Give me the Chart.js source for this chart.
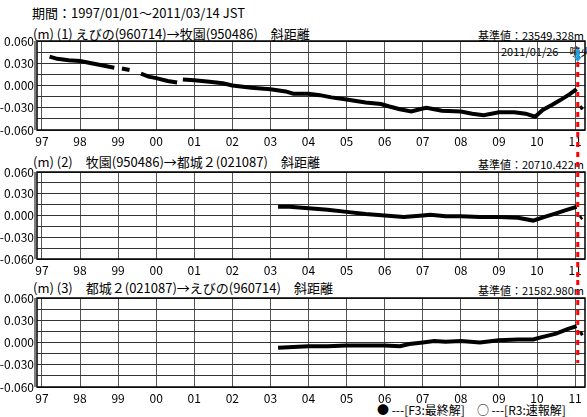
<!DOCTYPE html>
<html>
<head>
<meta charset="utf-8">
<script src="https://cdn.jsdelivr.net/npm/chart.js@4"></script>
<style>
  body { margin: 0; background: #fff; width: 587px; height: 417px; position: relative; overflow: hidden;
         font-family: "Noto Sans CJK JP", sans-serif; color: #000; }
  .t { position: absolute; white-space: nowrap; line-height: 1; }
  canvas { position: absolute; left: 0; }
</style>
</head>
<body>
<div class="t" style="left:32px;top:6px;font-size:13px">期間：1997/01/01～2011/03/14 JST</div>

<div class="t" style="left:33px;top:27px;font-size:13px">(m) (1) えびの(960714)→牧園(950486)　斜距離</div>
<div class="t" style="right:3px;top:30px;font-size:11px">基準値：23549.328m</div>
<div class="t" style="left:501px;top:46px;font-size:11px">2011/01/26　噴火</div>

<div class="t" style="left:33px;top:155px;font-size:13px">(m) (2)　牧園(950486)→都城２(021087)　斜距離</div>
<div class="t" style="right:3px;top:159px;font-size:11px">基準値：20710.422m</div>

<div class="t" style="left:33px;top:281px;font-size:13px">(m) (3)　都城２(021087)→えびの(960714)　斜距離</div>
<div class="t" style="right:3px;top:285px;font-size:11px">基準値：21582.980m</div>

<div class="t" style="left:377px;top:404px;font-size:12px">● ---[F3:最終解]　○ ---[R3:速報解]</div>

<canvas id="c1" width="587" height="132" style="top:20px"></canvas>
<canvas id="c2" width="587" height="128" style="top:152px"></canvas>
<canvas id="c3" width="587" height="137" style="top:280px"></canvas>

<script>
// x axis: decimal years, one tick per year
const years = [1997, 1998, 1999, 2000, 2001, 2002, 2003, 2004, 2005, 2006, 2007, 2008, 2009, 2010, 2011];
const yGrid = [0.06, 0.045, 0.03, 0.015, 0, -0.015, -0.03, -0.045, -0.06];
const yLabelValues = [0.06, 0.03, 0, -0.03, -0.06];
const yLabelTexts = ["0.060", "0.030", "0.000", "-0.030", "-0.060"];
const eruption = 2011.07; // 2011/01/26

// (1) えびの→牧園  (null = gap in the record)
const t1 = [1997.2, 1997.4, 1997.7, 1998.0, 1998.3, 1998.6, 1998.9, 1999.0, 1999.1, 1999.3, 1999.45,
  1999.6, 1999.8, 2000.0, 2000.3, 2000.55, 2000.62, 2000.7, 2001.0, 2001.4, 2001.75, 2002.0, 2002.5,
  2003.0, 2003.4, 2003.6, 2004.0, 2004.3, 2004.6, 2005.0, 2005.5, 2005.9, 2006.1, 2006.4, 2006.7,
  2007.0, 2007.1, 2007.5, 2008.0, 2008.3, 2008.6, 2009.0, 2009.4, 2009.7, 2009.95, 2010.15, 2010.4,
  2010.6, 2010.85, 2011.04, 2011.09, 2011.13, 2011.2];
const v1 = [0.039, 0.036, 0.034, 0.033, 0.030, 0.027, 0.024, null, 0.023, 0.021, null,
  0.016, 0.012, 0.010, 0.006, 0.004, null, 0.008, 0.007, 0.005, 0.003, 0.000, -0.003,
  -0.005, -0.008, -0.011, -0.011, -0.013, -0.016, -0.019, -0.023, -0.025, -0.028, -0.032, -0.035,
  -0.031, -0.030, -0.034, -0.035, -0.038, -0.040, -0.036, -0.036, -0.038, -0.042, -0.033, -0.026,
  -0.020, -0.012, -0.005, null, -0.031, -0.029];

// (2) 牧園→都城２
const t2 = [2003.2, 2003.5, 2004.0, 2004.5, 2005.0, 2005.5, 2006.0, 2006.5, 2007.0, 2007.2, 2007.6,
  2008.0, 2008.5, 2009.0, 2009.5, 2009.9, 2010.2, 2010.5, 2010.8, 2011.04, 2011.09, 2011.13, 2011.18];
const v2 = [0.012, 0.012, 0.010, 0.008, 0.005, 0.002, 0.000, -0.002, 0.000, 0.001, -0.001,
  -0.001, -0.002, -0.002, -0.003, -0.007, -0.002, 0.003, 0.008, 0.012, null, -0.004, -0.002];

// (3) 都城２→えびの
const t3 = [2003.2, 2003.6, 2004.0, 2004.5, 2005.0, 2005.5, 2006.0, 2006.4, 2006.65, 2007.0, 2007.3,
  2007.6, 2008.0, 2008.5, 2009.0, 2009.5, 2009.9, 2010.1, 2010.5, 2010.8, 2011.04, 2011.09, 2011.13, 2011.2];
const v3 = [-0.007, -0.006, -0.005, -0.005, -0.004, -0.004, -0.004, -0.005, -0.002, 0.000, 0.002,
  0.001, 0.002, 0.000, 0.003, 0.004, 0.004, 0.007, 0.012, 0.018, 0.022, null, 0.011, 0.013];

Chart.defaults.font.family = '"Noto Sans CJK JP", sans-serif';
Chart.defaults.font.size = 12;
Chart.defaults.color = "#000";

function makeChart(id, times, values, opt) {
  const framePlugin = {
    id: "frame",
    afterDraw(chart) {
      const ctx = chart.ctx;
      const a = chart.chartArea;
      ctx.save();
      ctx.strokeStyle = "#000";
      ctx.lineWidth = 1.5;
      ctx.strokeRect(a.left, a.top, a.right - a.left, a.bottom - a.top);
      ctx.beginPath();
      ctx.moveTo(a.left - 2, a.top);
      ctx.lineTo(a.left - 2, a.bottom);
      ctx.lineWidth = 1;
      ctx.stroke();

      const x = chart.scales.x.getPixelForValue(eruption);
      ctx.strokeStyle = "#ff0000";
      ctx.lineWidth = 3;
      ctx.setLineDash([5, 5]);
      ctx.beginPath();
      ctx.moveTo(x, opt.redFrom);
      ctx.lineTo(x, opt.redTo);
      ctx.stroke();
      ctx.setLineDash([]);

      if (opt.arrow) {
        ctx.strokeStyle = "#1ea0e6";
        ctx.fillStyle = "#1ea0e6";
        ctx.lineWidth = 3;
        ctx.beginPath();
        ctx.moveTo(x, opt.arrow[0]);
        ctx.lineTo(x, opt.arrow[1] - 4);
        ctx.stroke();
        ctx.beginPath();
        ctx.moveTo(x - 4, opt.arrow[1] - 5);
        ctx.lineTo(x + 4, opt.arrow[1] - 5);
        ctx.lineTo(x, opt.arrow[1]);
        ctx.closePath();
        ctx.fill();
      }
      ctx.restore();
    }
  };

  return new Chart(document.getElementById(id), {
    type: "scatter",
    data: {
      datasets: [{
        data: times.map((t, i) => ({ x: t, y: values[i] })),
        showLine: true,
        spanGaps: false,
        borderColor: "#000",
        backgroundColor: "#000",
        borderWidth: 4,
        pointRadius: 0,
      }],
    },
    options: {
      responsive: false,
      animation: false,
      layout: { padding: { top: opt.padTop, right: 2, left: 0, bottom: opt.padBottom } },
      plugins: { legend: { display: false }, tooltip: { enabled: false } },
      scales: {
        x: {
          type: "linear",
          min: 1996.87,
          max: 2011.26,
          afterBuildTicks: (s) => { s.ticks = years.map((v) => ({ value: v })); },
          afterFit: (s) => { s.height = opt.axisH; },
          ticks: {
            autoSkip: false,
            maxRotation: 0,
            padding: 4,
            callback: (v) => String(v % 100).padStart(2, "0"),
          },
          grid: { color: "#555", drawTicks: false },
          border: { display: false },
        },
        y: {
          min: -0.06,
          max: 0.06,
          afterBuildTicks: (s) => { s.ticks = yGrid.map((v) => ({ value: v })); },
          afterFit: (s) => { s.width = 37; },
          ticks: {
            autoSkip: false,
            padding: 3,
            callback: (v) => {
              const i = yLabelValues.findIndex((a) => Math.abs(a - v) < 1e-9);
              return i < 0 ? "" : yLabelTexts[i];
            },
          },
          grid: { color: "#333", drawTicks: false },
          border: { display: false },
        },
      },
    },
    plugins: [framePlugin],
  });
}

makeChart("c1", t1, v1, { padTop: 21, padBottom: 0, axisH: 22, redFrom: 42, redTo: 132, arrow: [29, 42] });
makeChart("c2", t2, v2, { padTop: 20, padBottom: 0, axisH: 21, redFrom: 0, redTo: 128 });
makeChart("c3", t3, v3, { padTop: 18, padBottom: 9, axisH: 21, redFrom: 0, redTo: 83 });
</script>
</body>
</html>
